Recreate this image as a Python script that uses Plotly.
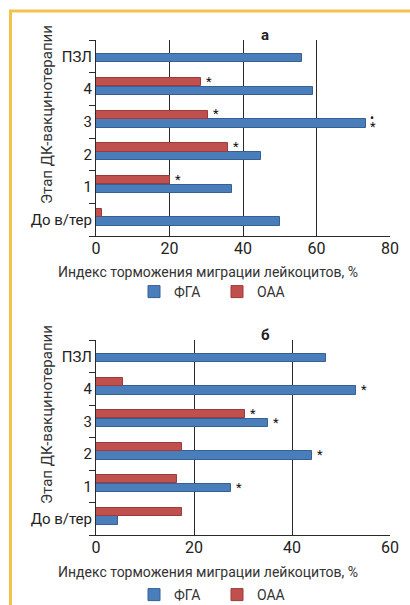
import plotly.graph_objects as go

W, H = 410, 605

categories = ['До в/тер', '1', '2', '3', '4', 'ПЗЛ']
# panel а
a_fga = [50, 37, 45, 73.5, 59, 56]
a_oaa = [1.5, 20, 36, 30.5, 28.5, None]
a_fga_star = ['', '', '', '•*', '', '']
a_oaa_star = ['', '*', '*', '*', '*', '']
# panel б
b_fga = [4.5, 27.5, 44, 35, 53, 47]
b_oaa = [17.5, 16.5, 17.5, 30.5, 5.5, None]
b_fga_star = ['', '*', '*', '*', '*', '']
b_oaa_star = ['', '', '', '*', '', '']

x_ticks_a = [0, 20, 40, 60, 80]
x_ticks_b = [0, 20, 40, 60]

BLUE, BLUE_EDGE = '#4a7ebb', '#355f95'
RED, RED_EDGE = '#c0504d', '#9c3b39'
FONT = 'Roboto'
DARK = '#2a2a2a'

def px(x):
    return x / W

def py(y):
    return 1 - y / H

fig = go.Figure()

panels = [
    ('x', 'y', 'legend', a_fga, a_oaa, a_fga_star, a_oaa_star),
    ('x2', 'y2', 'legend2', b_fga, b_oaa, b_fga_star, b_oaa_star),
]
BW = 0.25
BLUE_OFF = -0.18
RED_OFF = 0.085

annotations = []
for xa, ya, lg, fga, oaa, fst, ost in panels:
    fig.add_trace(go.Bar(
        y=categories, x=fga, orientation='h', name='ФГА',
        marker=dict(color=BLUE, line=dict(color=BLUE_EDGE, width=1)),
        width=BW, offset=BLUE_OFF, xaxis=xa, yaxis=ya, legend=lg,
    ))
    fig.add_trace(go.Bar(
        y=categories, x=oaa, orientation='h', name='ОАА',
        marker=dict(color=RED, line=dict(color=RED_EDGE, width=1)),
        width=BW, offset=RED_OFF, xaxis=xa, yaxis=ya, legend=lg,
    ))
    for vals, stars, shift in ((fga, fst, -2), (oaa, ost, 7)):
        for c, v, s in zip(categories, vals, stars):
            if not s:
                continue
            if s == '•*':
                annotations.append(dict(x=v, y=c, xref=xa, yref=ya, text='•',
                                        showarrow=False, xanchor='left', yanchor='middle', xshift=2,
                                        yshift=shift + 6, font=dict(size=12, color='#111', family=FONT)))
                annotations.append(dict(x=v, y=c, xref=xa, yref=ya, text='*',
                                        showarrow=False, xanchor='left', yanchor='middle', xshift=2,
                                        yshift=shift - 3, font=dict(size=13, color='#111', family=FONT)))
            else:
                annotations.append(dict(x=v, y=c, xref=xa, yref=ya, text='*',
                                        showarrow=False, xanchor='left', yanchor='middle', xshift=3,
                                        yshift=shift + 1, font=dict(size=13, color='#111', family=FONT)))

# panel titles and axis titles
for ytop, label in ((0, 'а'), (300, 'б')):
    annotations.append(dict(x=px(265), y=py(35 + ytop), xref='paper', yref='paper', text='<b>%s</b>' % label,
                            xanchor='center', yanchor='middle',
                            showarrow=False, font=dict(size=15, color='#222', family=FONT)))
    annotations.append(dict(x=px(47), y=py(115 + ytop), xref='paper', yref='paper', text='Этап ДК-вакцинотерапии',
                            xanchor='center', yanchor='middle',
                            textangle=-90, showarrow=False, font=dict(size=15, color='#333', family=FONT)))
    annotations.append(dict(x=px(208), y=py(272 + ytop), xref='paper', yref='paper',
                            text='Индекс торможения миграции лейкоцитов, %',
                            xanchor='center', yanchor='middle',
                            showarrow=False, font=dict(size=14, color='#333', family=FONT)))

xdom = [px(96), px(390)]
common_x = dict(domain=xdom, showgrid=True, gridcolor=DARK, gridwidth=1, zeroline=False,
                showline=True, linecolor=DARK, linewidth=1, ticks='', dtick=20, automargin=False,
                ticklabelstandoff=-2,
                tickfont=dict(size=16, color='#222', family=FONT))
common_y = dict(type='category', categoryorder='array', categoryarray=categories,
                range=[-0.5, 5.5], showgrid=False, zeroline=False, showline=True, automargin=False,
                linecolor=DARK, linewidth=1, ticks='outside', tickson='boundaries',
                ticklen=6, tickcolor=DARK, tickfont=dict(size=15, color='#222', family=FONT))

fig.update_layout(
    width=W, height=H, margin=dict(l=0, r=0, t=0, b=0, autoexpand=False),
    paper_bgcolor='white', plot_bgcolor='white',
    barmode='overlay', bargap=0,
    font=dict(family=FONT),
    xaxis=dict(common_x, range=[0, 80], tickvals=x_ticks_a, anchor='y'),
    yaxis=dict(common_y, domain=[py(236), py(40)], anchor='x'),
    xaxis2=dict(common_x, range=[0, 60], tickvals=x_ticks_b, anchor='y2'),
    yaxis2=dict(common_y, domain=[py(535), py(340)], anchor='x2'),
    legend=dict(orientation='h', x=px(134), y=py(292), xanchor='left', yanchor='middle',
                entrywidth=38, entrywidthmode='pixels',
                font=dict(size=14, color='#333', family=FONT), bgcolor='rgba(0,0,0,0)'),
    legend2=dict(orientation='h', x=px(134), y=py(595), xanchor='left', yanchor='middle',
                 entrywidth=38, entrywidthmode='pixels',
                 font=dict(size=14, color='#333', family=FONT), bgcolor='rgba(0,0,0,0)'),
    annotations=annotations,
    shapes=[
        dict(type='line', xref='paper', yref='paper', x0=px(10.5), x1=px(10.5), y0=0, y1=py(10),
             line=dict(color='#f2c14e', width=3)),
        dict(type='line', xref='paper', yref='paper', x0=px(9), x1=1, y0=py(11), y1=py(11),
             line=dict(color='#f2c14e', width=3)),
    ],
)

fig.write_html('out.html', config={'displayModeBar': False},
               post_script="document.body.style.margin='0px';document.body.style.overflow='hidden';")
